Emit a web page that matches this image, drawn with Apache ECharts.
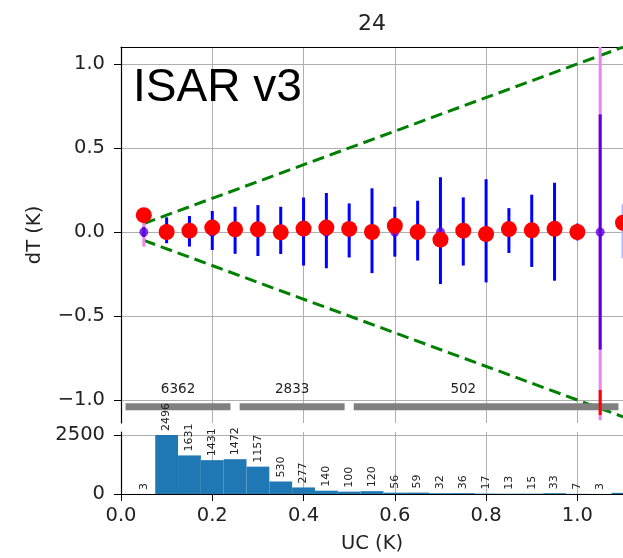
<!DOCTYPE html>
<html>
<head>
<meta charset="utf-8">
<script src="https://cdn.jsdelivr.net/npm/echarts@6/dist/echarts.min.js"></script>
<style>
html, body { margin: 0; padding: 0; background: #fff; }
#main { width: 623px; height: 558px; }
</style>
</head>
<body>
<div id="main"></div>
<script>
// ---- data ----
var xTicks = [0, 0.2, 0.4, 0.6, 0.8, 1.0];
var dtTicks = [-1.0, -0.5, 0, 0.5, 1.0];
var countTicks = [0, 2500];

// red points (mean dT per UC bin)
var redX = [0.05, 0.1, 0.15, 0.2, 0.25, 0.3, 0.35, 0.4, 0.45, 0.5, 0.55, 0.6, 0.65, 0.7, 0.75, 0.8, 0.85, 0.9, 0.95, 1.0, 1.1];
var redY = [0.10, 0.0, 0.008, 0.026, 0.016, 0.016, -0.002, 0.02, 0.026, 0.018, 0.0, 0.037, 0.0, -0.046, 0.008, -0.012, 0.017, 0.01, 0.019, 0.0, 0.055];

// blue error bars
var blueX = [0.1, 0.15, 0.2, 0.25, 0.3, 0.35, 0.4, 0.45, 0.5, 0.55, 0.6, 0.65, 0.7, 0.75, 0.8, 0.85, 0.9, 0.95, 1.0];
var blueLo = [-0.067, -0.087, -0.107, -0.13, -0.143, -0.131, -0.2, -0.216, -0.152, -0.245, -0.147, -0.17, -0.31, -0.2, -0.30, -0.125, -0.208, -0.29, -0.05];
var blueHi = [0.087, 0.095, 0.125, 0.15, 0.16, 0.15, 0.205, 0.232, 0.17, 0.26, 0.15, 0.186, 0.326, 0.206, 0.314, 0.142, 0.222, 0.293, 0.05];

// faint error bar at the right edge
var paleX = [1.1];
var paleLo = [-0.157];
var paleHi = [0.165];

// purple points with their error bars
var purpleX = [0.05, 0.1, 0.15, 0.2, 0.25, 0.3, 0.35, 0.4, 0.45, 0.5, 0.55, 0.6, 0.65, 0.7, 0.75, 0.8, 0.85, 0.9, 0.95, 1.0, 1.05];
var purpleY = [0, 0, 0, 0, 0, 0, 0, 0, 0, 0, 0, 0, 0, 0, 0, 0, 0, 0, 0, 0, 0];
var purpleErr = [0.03, 0.03, 0.03, 0.03, 0.03, 0.03, 0.03, 0.03, 0.03, 0.03, 0.03, 0.03, 0.03, 0.03, 0.03, 0.03, 0.03, 0.03, 0.03, 0.03, 0.7];
var violetX = [0.05, 1.05];
var violetErr = [0.087, 1.12];
var redBarX = [1.05];
var redBarLo = [-1.09];
var redBarHi = [-0.94];

// dashed envelope
var envX = [0.05, 1.1];

// grey range bars with their counts
var segStart = [0, 0.25, 0.5];
var segEnd = [0.25, 0.5, 1.1];
var segLabelX = [0.125, 0.375, 0.75];
var segCount = [6362, 2833, 502];

// histogram of UC
var histX = [0.05, 0.1, 0.15, 0.2, 0.25, 0.3, 0.35, 0.4, 0.45, 0.5, 0.55, 0.6, 0.65, 0.7, 0.75, 0.8, 0.85, 0.9, 0.95, 1.0, 1.05, 1.1];
var histN = [3, 2496, 1631, 1431, 1472, 1157, 530, 277, 140, 100, 120, 56, 59, 32, 36, 17, 13, 15, 33, 7, 3, 50];
var binW = 0.05;

var X_MAX = 1.1;
var SEG_Y = -1.04;
var SEG_LABEL_Y = -0.94;

var tickFont = 'DejaVu Sans';
var txt = '#222';

function fmtDT(v) {
    return v < 0 ? '\u2212' + (-v).toFixed(1) : v.toFixed(1);
}

function errSeries(xs, lo, hi, color, width, z) {
    var data = xs.map(function (x, i) { return [x, lo[i], hi[i]]; });
    return {
        type: 'custom', xAxisIndex: 0, yAxisIndex: 0, z: z, clip: true,
        encode: { x: 0, y: [1, 2] },
        data: data,
        renderItem: function (params, api) {
            var a = api.coord([api.value(0), api.value(1)]);
            var b = api.coord([api.value(0), api.value(2)]);
            return {
                type: 'line',
                shape: { x1: a[0], y1: a[1], x2: b[0], y2: b[1] },
                style: { stroke: color, lineWidth: width }
            };
        }
    };
}

var chart = echarts.init(document.getElementById('main'));

var option = {
    animation: false,
    backgroundColor: '#fff',
    grid: [
        { left: 121, top: 47, width: 502, height: 376 },
        { left: 121, top: 432, width: 502, height: 62 }
    ],
    xAxis: [
        {   // top panel, bottom side: ticks + grid only
            gridIndex: 0, type: 'value', min: 0, max: X_MAX,
            axisLine: { show: false },
            axisTick: { show: true, inside: true, length: 7, customValues: xTicks, lineStyle: { color: '#000' } },
            axisLabel: { show: false, customValues: xTicks },
            splitLine: { show: true, lineStyle: { color: '#b0b0b0', width: 1 } }
        },
        {   // top spine
            gridIndex: 0, type: 'value', min: 0, max: X_MAX, position: 'top',
            axisLine: { show: true, onZero: false, lineStyle: { color: '#000', width: 1.2 } },
            axisTick: { show: false }, axisLabel: { show: false }, splitLine: { show: false }
        },
        {   // histogram panel
            gridIndex: 1, type: 'value', min: 0, max: X_MAX,
            name: 'UC (K)', nameLocation: 'middle', nameGap: 40,
            nameTextStyle: { fontFamily: tickFont, fontSize: 19.5, color: txt },
            axisLine: { show: true, onZero: false, lineStyle: { color: '#000', width: 1.2 } },
            axisTick: { show: true, length: 7, customValues: xTicks, lineStyle: { color: '#000' } },
            axisLabel: { customValues: xTicks, margin: 12, fontFamily: tickFont, fontSize: 19.5, color: txt,
                formatter: function (v) { return v.toFixed(1); } },
            splitLine: { show: true, lineStyle: { color: '#b0b0b0', width: 1 } }
        }
    ],
    yAxis: [
        {
            gridIndex: 0, type: 'value', min: -1.137, max: 1.101,
            name: 'dT (K)', nameLocation: 'middle', nameGap: 76,
            nameTextStyle: { fontFamily: tickFont, fontSize: 19.5, color: txt },
            axisLine: { show: true, onZero: false, lineStyle: { color: '#000', width: 1.2 } },
            axisTick: { show: true, length: 7, customValues: dtTicks, lineStyle: { color: '#000' } },
            axisLabel: { customValues: dtTicks, margin: 16, fontFamily: tickFont, fontSize: 19.5, color: txt, formatter: fmtDT },
            splitLine: { show: true, lineStyle: { color: '#b0b0b0', width: 1 } }
        },
        {
            gridIndex: 1, type: 'value', min: 0, max: 2621,
            axisLine: { show: true, onZero: false, lineStyle: { color: '#000', width: 1.2 } },
            axisTick: { show: true, length: 7, customValues: countTicks, lineStyle: { color: '#000' } },
            axisLabel: { customValues: countTicks, margin: 16, fontFamily: tickFont, fontSize: 19.5, color: txt,
                formatter: function (v) { return String(v); } },
            splitLine: { show: true, lineStyle: { color: '#b0b0b0', width: 1 } }
        }
    ],
    graphic: [
        { type: 'text', left: 133, top: 65, z: 100,
          style: { text: 'ISAR v3', font: '46px "Liberation Sans", Arial, sans-serif', fill: '#000' } },
        { type: 'text', x: 372, y: 24, z: 100,
          style: { text: '24', font: '22px "DejaVu Sans"', fill: txt, align: 'center', verticalAlign: 'middle' } }
    ],
    series: [
        {   // upper envelope
            type: 'line', xAxisIndex: 0, yAxisIndex: 0, showSymbol: false, z: 3,
            data: envX.map(function (x) { return [x, x]; }),
            lineStyle: { color: '#008000', width: 3, type: [12, 6] }
        },
        {   // lower envelope
            type: 'line', xAxisIndex: 0, yAxisIndex: 0, showSymbol: false, z: 3,
            data: envX.map(function (x) { return [x, -x]; }),
            lineStyle: { color: '#008000', width: 3, type: [12, 6] }
        },
        errSeries(violetX, violetX.map(function (x, i) { return -violetErr[i]; }), violetErr, '#ee82ee', 3, 4),
        errSeries(purpleX, purpleErr.map(function (e) { return -e; }), purpleErr, '#6000e0', 3, 5),
        errSeries(blueX, blueLo, blueHi, '#0000ff', 3, 6),
        errSeries(paleX, paleLo, paleHi, '#b4b4ff', 3, 6),
        errSeries(redBarX, redBarLo, redBarHi, '#ff0000', 3, 7),
        {
            type: 'scatter', xAxisIndex: 0, yAxisIndex: 0, z: 8, symbolSize: 9,
            itemStyle: { color: '#6000e0' },
            data: purpleX.map(function (x, i) { return [x, purpleY[i]]; })
        },
        {
            type: 'scatter', xAxisIndex: 0, yAxisIndex: 0, z: 9, symbolSize: 16,
            itemStyle: { color: '#ff0000', opacity: 1 },
            data: redX.map(function (x, i) { return [x, redY[i]]; })
        },
        {   // grey range bars with counts
            type: 'custom', xAxisIndex: 0, yAxisIndex: 0, z: 6, clip: false,
            data: segStart.map(function (s, i) { return [s, segEnd[i], segLabelX[i], segCount[i]]; }),
            renderItem: function (params, api) {
                var a = api.coord([api.value(0) + 0.01, SEG_Y]);
                var b = api.coord([api.value(1) - 0.01, SEG_Y]);
                var t = api.coord([api.value(2), SEG_LABEL_Y]);
                return {
                    type: 'group',
                    children: [
                        { type: 'line', shape: { x1: a[0], y1: a[1], x2: b[0], y2: b[1] },
                          style: { stroke: '#808080', lineWidth: 7 } },
                        { type: 'text', x: t[0], y: t[1],
                          style: { text: String(api.value(3)), font: '13.5px "DejaVu Sans"', fill: txt,
                                   align: 'center', verticalAlign: 'middle' } }
                    ]
                };
            }
        },
        {   // histogram
            type: 'custom', xAxisIndex: 2, yAxisIndex: 1, z: 10, clip: false,
            encode: { x: 0, y: 1 },
            data: histX.map(function (x, i) { return [x, histN[i]]; }),
            renderItem: function (params, api) {
                var x = api.value(0), n = api.value(1);
                var p0 = api.coord([x - binW / 2, 0]);
                var p1 = api.coord([x + binW / 2, n]);
                var pc = api.coord([x, n]);
                var children = [
                    { type: 'rect', shape: { x: p0[0], y: p1[1], width: p1[0] - p0[0], height: p0[1] - p1[1] },
                      style: { fill: '#1f77b4' } }
                ];
                if (x < X_MAX) {
                    children.push({
                        type: 'text', x: pc[0], y: pc[1] - 4, rotation: Math.PI / 2,
                        style: { text: String(n), font: '11px "DejaVu Sans"', fill: txt,
                                 align: 'left', verticalAlign: 'middle' }
                    });
                }
                return { type: 'group', children: children };
            }
        }
    ]
};

chart.setOption(option);
window.onresize = function () { chart.resize(); };
</script>
</body>
</html>
